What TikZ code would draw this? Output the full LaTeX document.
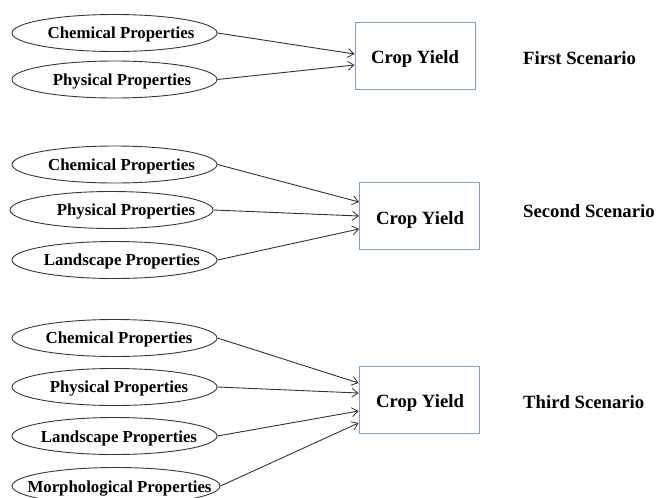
\documentclass[tikz,border=0pt]{standalone}
\usepackage{fontspec}
\setmainfont{Liberation Serif}
\usetikzlibrary{shapes.geometric,arrows.meta}
\definecolor{ellgray}{RGB}{55,55,55}
\definecolor{boxblue}{RGB}{130,158,195}
\definecolor{arrgray}{RGB}{50,50,50}

\begin{document}
\begin{tikzpicture}[x=1pt,y=-1pt,
  prop/.style={ellipse,draw=ellgray,line width=0.9pt,minimum width=205pt,
    minimum height=37pt,inner sep=0pt},
  ptext/.style={font=\fontsize{16.8}{18}\selectfont\bfseries,inner sep=0pt,yshift=-1.5pt},
  yieldbox/.style={draw=boxblue,line width=1pt,minimum width=120pt,
    minimum height=67pt,inner sep=0pt},
  ytext/.style={font=\fontsize{18.7}{20}\selectfont\bfseries,inner sep=0pt,yshift=-2pt},
  scen/.style={font=\fontsize{18.7}{20}\selectfont\bfseries,inner sep=0pt,anchor=west,yshift=-1.5pt},
  link/.style={draw=arrgray,line width=0.9pt,
    -{Straight Barb[length=6pt,width=9pt,line width=0.8pt]}}
]
\useasboundingbox (0,0) rectangle (659,498);

% ---- first scenario ----
\node[prop] (chem1) at (114.5,33) {};
\node[ptext] (tchem1) at (121,33) {Chemical Properties};
\node[prop] (phys1) at (114.5,79.5) {};
\node[ptext] (tphys1) at (122,79.5) {Physical Properties};
\node[yieldbox] (yield1) at (415,55.5) {};
\node[ytext] (tyield1) at (415,57) {Crop Yield};
\node[scen] (scen1) at (523,57) {First Scenario};
\draw[link] (chem1.east) -- ([yshift=1.5pt]yield1.west);
\draw[link] (phys1.east) -- ([yshift=-9.5pt]yield1.west);

% ---- second scenario ----
\node[prop] (chem2) at (114.5,164.5) {};
\node[ptext] (tchem2) at (121.5,164.5) {Chemical Properties};
\node[prop,minimum width=203pt] (phys2) at (111.5,210) {};
\node[ptext] (tphys2) at (126,210) {Physical Properties};
\node[prop] (land2) at (114.5,260) {};
\node[ptext] (tland2) at (122,260) {Landscape Properties};
\node[yieldbox] (yield2) at (419.5,216) {};
\node[ytext] (tyield2) at (420,218) {Crop Yield};
\node[scen] (scen2) at (523,210) {Second Scenario};
\draw[link] (chem2.east) -- ([yshift=14pt]yield2.west);
\draw[link] (phys2.east) -- (yield2.west);
\draw[link] (land2.east) -- ([yshift=-13pt]yield2.west);

% ---- third scenario ----
\node[prop] (chem3) at (114.5,338) {};
\node[ptext] (tchem3) at (119,338) {Chemical Properties};
\node[prop] (phys3) at (114.5,387) {};
\node[ptext] (tphys3) at (119,387) {Physical Properties};
\node[prop] (land3) at (114.5,436) {};
\node[ptext] (tland3) at (119,437) {Landscape Properties};
\node[prop,minimum width=208pt] (morph3) at (116,486) {};
\node[ptext] (tmorph3) at (119.5,487) {Morphological Properties};
\node[yieldbox] (yield3) at (419,399.5) {};
\node[ytext] (tyield3) at (420,401) {Crop Yield};
\node[scen] (scen3) at (523,401) {Third Scenario};
\draw[link] (chem3.east) -- ([yshift=16.5pt]yield3.west);
\draw[link] (phys3.east) -- ([yshift=6.5pt]yield3.west);
\draw[link] (land3.east) -- ([yshift=-11.5pt]yield3.west);
\draw[link] (morph3.east) -- ([yshift=-23.5pt]yield3.west);
\end{tikzpicture}
\end{document}
